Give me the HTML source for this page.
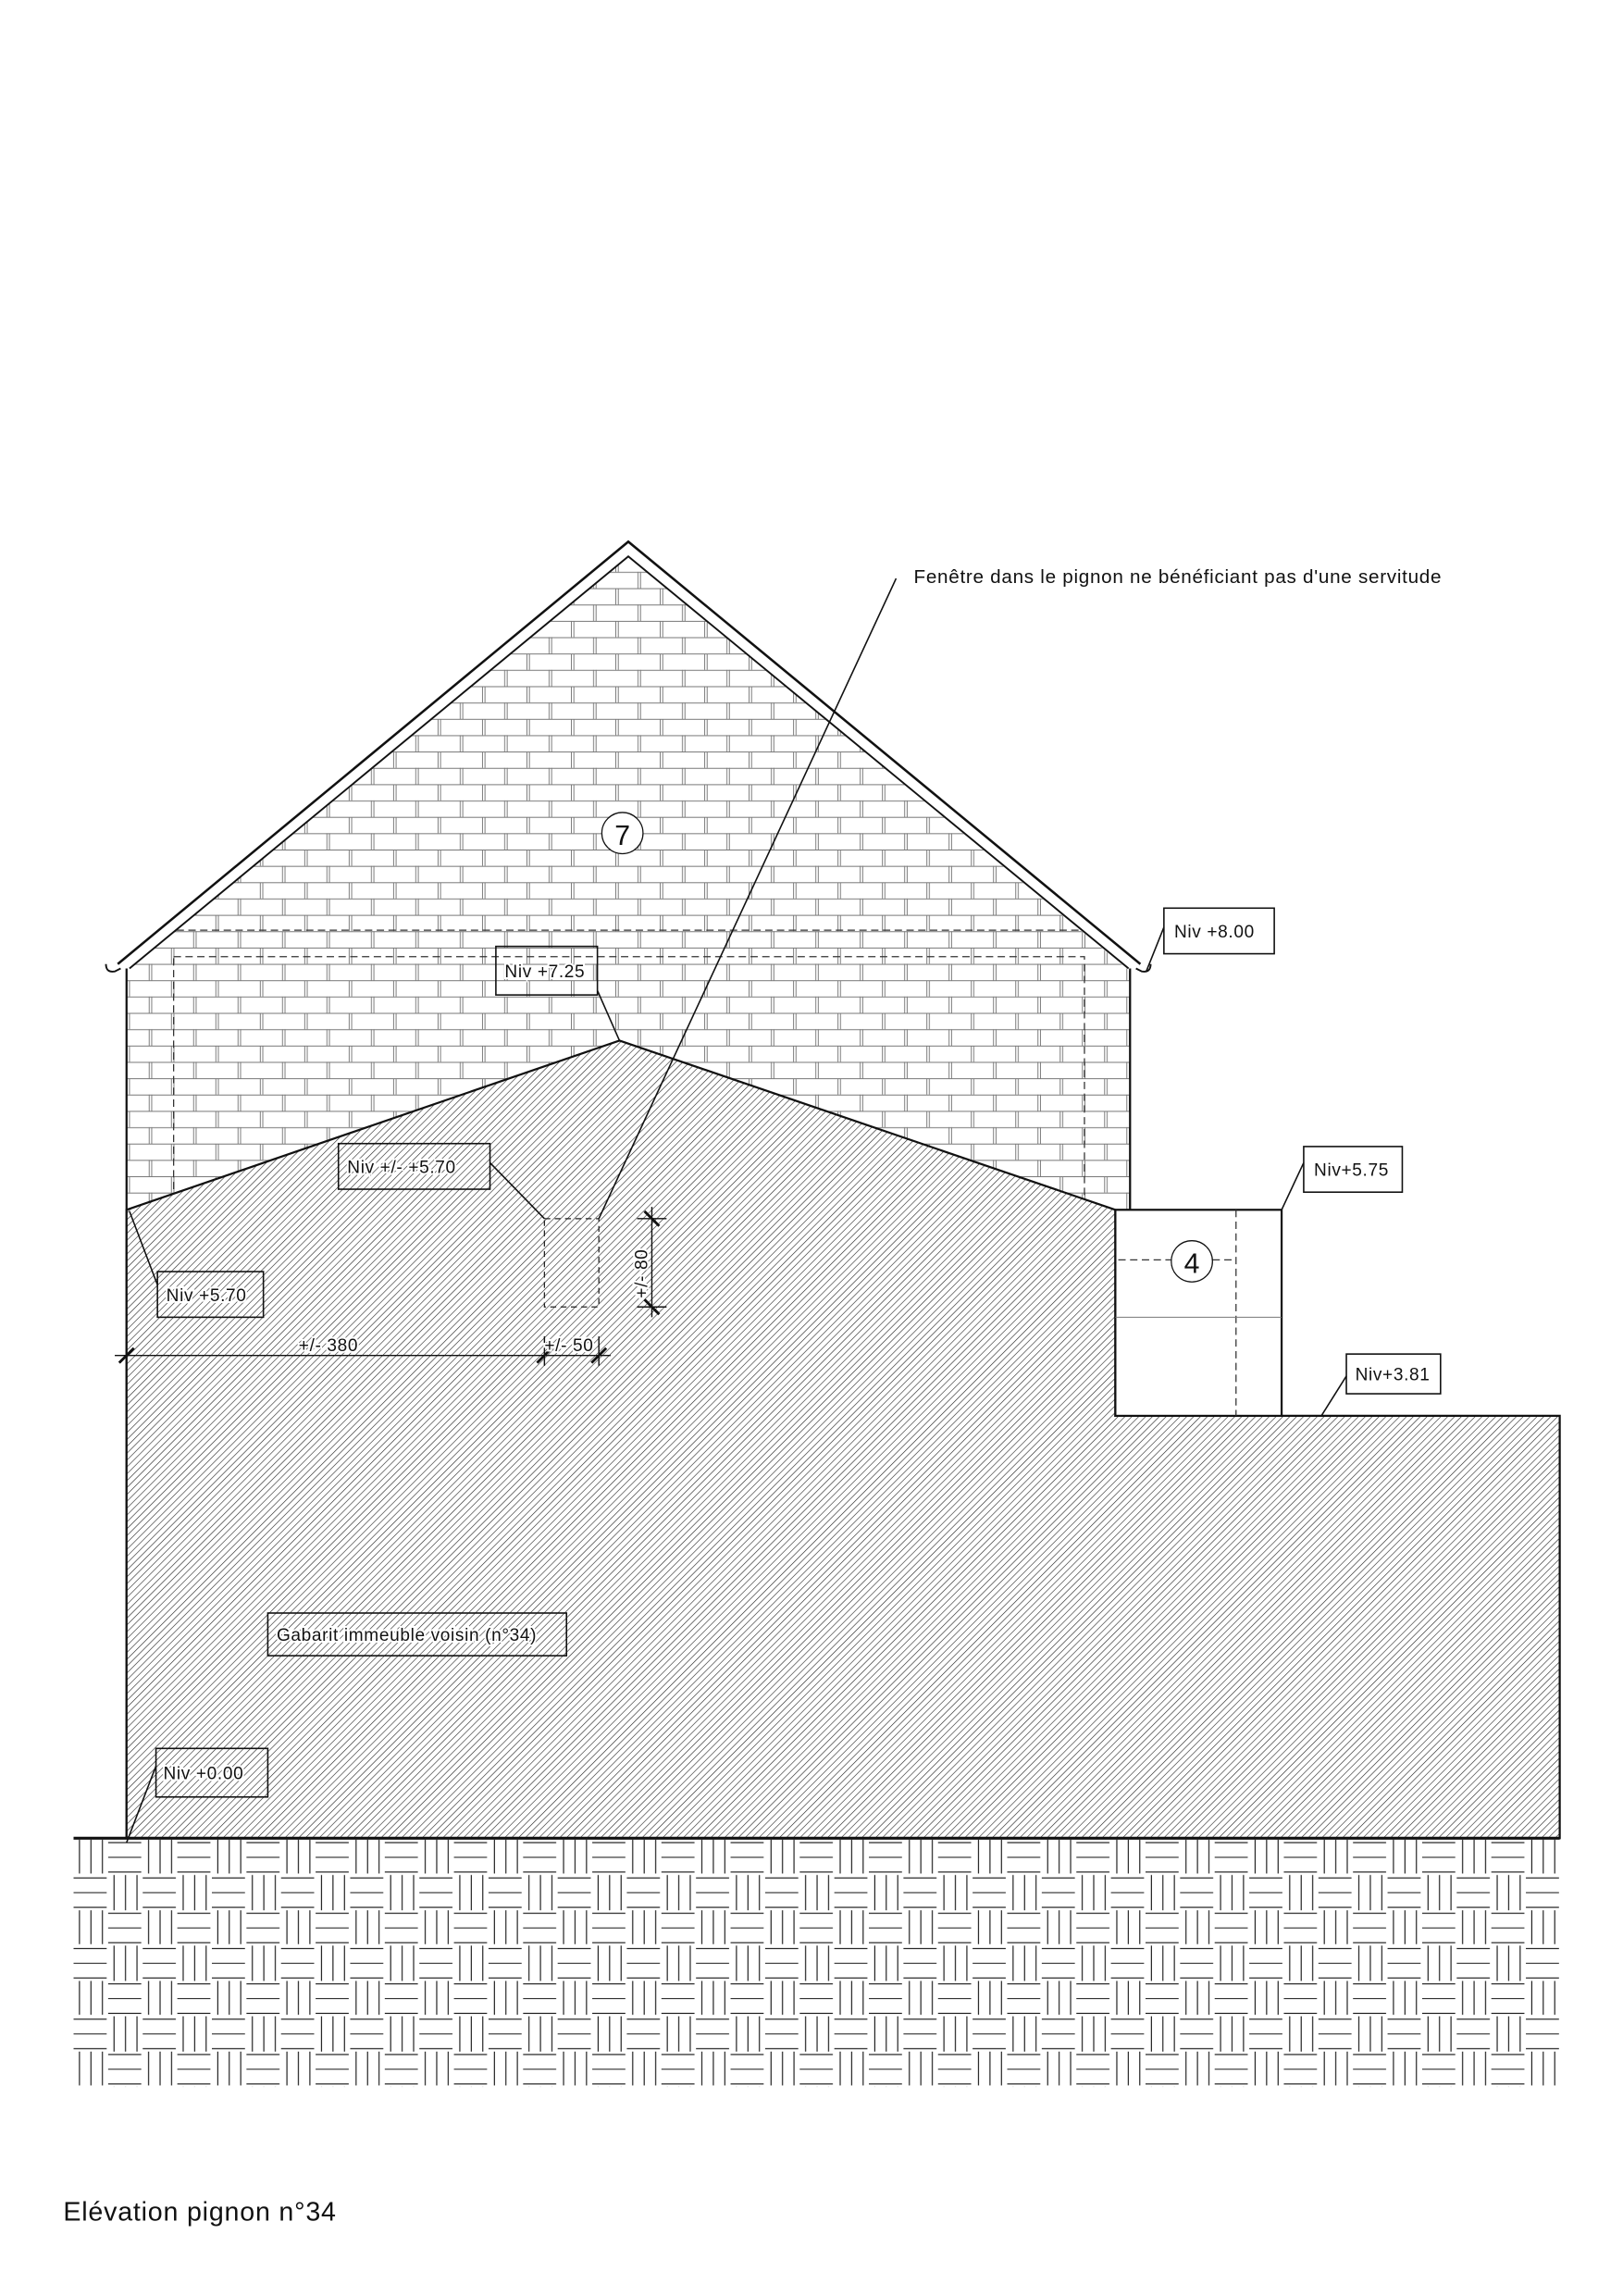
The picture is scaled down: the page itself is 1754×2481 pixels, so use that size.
<!DOCTYPE html>
<html><head><meta charset="utf-8"><style>
html,body{margin:0;padding:0;background:#fff}
svg{display:block}
text{font-family:"Liberation Sans",sans-serif;fill:#111}
.lb{font-size:12px;letter-spacing:0.4px;paint-order:stroke;stroke:#fff;stroke-width:2.5px}
</style></head><body>
<svg width="1754" height="2481" viewBox="0 0 1103 1560" xmlns="http://www.w3.org/2000/svg">
<defs>
<pattern id="brick" width="30.2" height="22.2" patternUnits="userSpaceOnUse" x="86" y="0">
<g stroke="#777" stroke-width="0.6" fill="none">
<line x1="0" y1="0.3" x2="30.2" y2="0.3"/><line x1="0" y1="11.4" x2="30.2" y2="11.4"/>
<line x1="0.3" y1="0" x2="0.3" y2="11.1"/><line x1="2" y1="0" x2="2" y2="11.1"/>
<line x1="15.4" y1="11.1" x2="15.4" y2="22.2"/><line x1="17.1" y1="11.1" x2="17.1" y2="22.2"/>
</g></pattern>
<pattern id="hatch" width="3.3" height="3.3" patternUnits="userSpaceOnUse" patternTransform="rotate(45)">
<line x1="0" y1="0" x2="0" y2="3.3" stroke="#222" stroke-width="0.75"/></pattern>
<pattern id="weave" width="47" height="48" patternUnits="userSpaceOnUse" x="50" y="1250">
<g stroke="#111" stroke-width="0.7">
<line x1="4" y1="0" x2="4" y2="23"/><line x1="11.8" y1="0" x2="11.8" y2="23"/><line x1="19.6" y1="0" x2="19.6" y2="23"/>
<line x1="23.5" y1="2" x2="46" y2="2"/><line x1="23.5" y1="12" x2="46" y2="12"/><line x1="23.5" y1="22" x2="46" y2="22"/>
<line x1="27.5" y1="24" x2="27.5" y2="48"/><line x1="35.3" y1="24" x2="35.3" y2="48"/><line x1="43.1" y1="24" x2="43.1" y2="48"/>
<line x1="0" y1="26" x2="22.5" y2="26"/><line x1="0" y1="36" x2="22.5" y2="36"/><line x1="0" y1="46" x2="22.5" y2="46"/>
</g></pattern>
</defs>

<polygon points="86,660 427,378 768,660 768,822 86,822" fill="url(#brick)"/>
<g stroke="#333" stroke-width="0.8" fill="none" stroke-dasharray="5,3">
<line x1="120" y1="632" x2="736" y2="632"/>
<rect x="118" y="650" width="619" height="172"/>
</g>
<g stroke="#111" fill="none">
<polyline points="80,655 427,368 775,655" stroke-width="1.6"/>
<polyline points="88,658 427,378 767,658" stroke-width="1.2"/>
<path d="M72,655 q0,6 6,5 l4,-2" stroke-width="1.2"/>
<path d="M782,655 q0,6 -6,5 l-4,-2" stroke-width="1.2"/>
<line x1="86" y1="658" x2="86" y2="1249" stroke-width="1.4"/>
<line x1="768" y1="658" x2="768" y2="822" stroke-width="1.4"/>
</g>
<polygon points="86,822 421,707 758,822 758,962 1060,962 1060,1249 86,1249" fill="#fff"/>
<polygon points="86,822 421,707 758,822 758,962 1060,962 1060,1249 86,1249" fill="url(#hatch)" stroke="#111" stroke-width="1.4"/>
<rect x="758" y="822" width="113" height="140" fill="#fff" stroke="#111" stroke-width="1.4"/>
<g stroke="#333" stroke-width="0.8" stroke-dasharray="5,3"><line x1="840" y1="822" x2="840" y2="962"/><line x1="760" y1="856" x2="840" y2="856"/></g>
<line x1="758" y1="895" x2="871" y2="895" stroke="#777" stroke-width="0.6"/>
<circle cx="810" cy="857" r="14" fill="#fff" stroke="#111" stroke-width="0.8"/>
<text x="810" y="865" font-size="19" text-anchor="middle">4</text>
<circle cx="423" cy="566" r="14" fill="#fff" stroke="#111" stroke-width="0.8"/>
<text x="423" y="574" font-size="19" text-anchor="middle">7</text>

<rect x="370" y="828" width="37" height="60" fill="none" stroke="#222" stroke-width="0.8" stroke-dasharray="4,3"/>
<line x1="609" y1="393" x2="407" y2="828" stroke="#111" stroke-width="1"/>
<text x="621" y="396" font-size="13" letter-spacing="0.45">Fenêtre dans le pignon ne bénéficiant pas d'une servitude</text>

<g stroke="#111" stroke-width="0.9">
<line x1="78" y1="921" x2="415" y2="921"/>
<line x1="86" y1="913" x2="86" y2="928"/><line x1="370" y1="908" x2="370" y2="928"/><line x1="407" y1="908" x2="407" y2="928"/>
<line x1="81" y1="926" x2="91" y2="916" stroke-width="1.8"/><line x1="365" y1="926" x2="375" y2="916" stroke-width="1.8"/><line x1="402" y1="926" x2="412" y2="916" stroke-width="1.8"/>
<line x1="443" y1="820" x2="443" y2="895"/>
<line x1="433" y1="828" x2="453" y2="828"/><line x1="433" y1="888" x2="453" y2="888"/>
<line x1="438" y1="823" x2="448" y2="833" stroke-width="1.8"/><line x1="438" y1="883" x2="448" y2="893" stroke-width="1.8"/>
</g>
<text class="lb" x="203" y="918">+/- 380</text>
<text class="lb" x="370" y="918">+/- 50</text>
<text class="lb" transform="translate(440,882) rotate(-90)">+/- 80</text>

<g stroke="#111" stroke-width="1" fill="none">
<rect x="791" y="617" width="75" height="31"/><line x1="779" y1="660" x2="791" y2="630"/>
<rect x="337" y="643" width="69" height="33"/><line x1="406" y1="673" x2="421" y2="707"/>
<rect x="230" y="777" width="103" height="31"/><line x1="333" y1="790" x2="370" y2="828"/>
<rect x="107" y="864" width="72" height="31"/><line x1="88" y1="823" x2="107" y2="873"/>
<rect x="886" y="779" width="67" height="31"/><line x1="871" y1="822" x2="886" y2="790"/>
<rect x="915" y="920" width="64" height="27"/><line x1="898" y1="962" x2="915" y2="935"/>
<rect x="182" y="1096" width="203" height="29"/>
<rect x="106" y="1188" width="76" height="33"/><line x1="86" y1="1252" x2="106" y2="1200"/>
</g>
<text class="lb" x="798" y="637">Niv +8.00</text>
<text class="lb" x="343" y="664">Niv +7.25</text>
<text class="lb" x="236" y="797">Niv +/- +5.70</text>
<text class="lb" x="113" y="884">Niv +5.70</text>
<text class="lb" x="893" y="799">Niv+5.75</text>
<text class="lb" x="921" y="938">Niv+3.81</text>
<text class="lb" x="188" y="1115" letter-spacing="0.55">Gabarit immeuble voisin (n°34)</text>
<text class="lb" x="111" y="1209">Niv +0.00</text>

<rect x="50" y="1250" width="1010" height="168" fill="url(#weave)"/>
<line x1="50" y1="1249" x2="1060" y2="1249" stroke="#111" stroke-width="2"/>

<text x="43" y="1509" font-size="18" letter-spacing="0.5">Elévation pignon n°34</text>
</svg>
</body></html>
